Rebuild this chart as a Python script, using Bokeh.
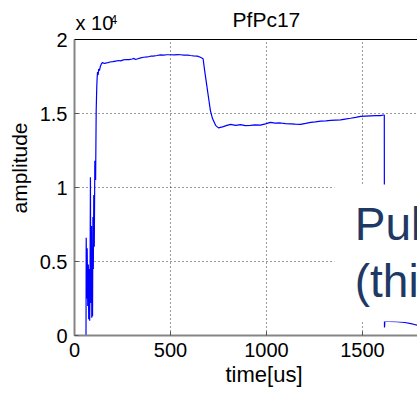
from bokeh.plotting import figure
from bokeh.models import Label, BoxAnnotation, Span, FixedTicker, Range1d, NumeralTickFormatter, Title
from bokeh.embed import file_html
from bokeh.resources import INLINE

# ---- data ----
title_text = "PfPc17"
x_label = "time[us]"
y_label = "amplitude"
y_multiplier = "x 10"
y_exponent = "4"
x_ticks = [0, 500, 1000, 1500, 2000]
y_ticks = [0, 0.5, 1, 1.5, 2]
y_scale = 1e4

time_us = [0, 60, 61, 64, 66, 69, 72, 74, 77, 79, 81, 83, 85, 87, 88.6, 90, 92, 94, 96, 98,
           100.5, 103, 106, 110, 113, 116, 118, 120, 123, 126, 130, 135, 140, 146, 152, 158,
           165, 175, 185, 200, 215, 230, 240, 255, 270, 285, 300, 310, 318, 330, 345, 360,
           380, 396, 410, 430, 448, 465, 480, 500, 520, 540, 552, 570, 590, 604, 620, 640,
           656, 670, 677, 688, 698, 708, 719, 735, 750, 771, 790, 813, 840, 865, 890, 917,
           940, 969, 995, 1021, 1045, 1073, 1100, 1125, 1150, 1177, 1205, 1230, 1255, 1282,
           1310, 1334, 1360, 1386, 1410, 1438, 1465, 1490, 1515, 1542, 1570, 1594, 1610,
           1614, 1615, 1617, 1640, 1680, 1720, 1760, 1800]
amplitude = [0, 0, 6600, 2500, 5900, 2000, 4800, 1100, 4500, 1000, 3800, 10700, 2200, 5500,
             7400, 1200, 6000, 1300, 8000, 4500, 9500, 6000, 11800, 10500, 15200, 16800,
             17400, 17800, 17600, 18000, 17900, 18200, 18350, 18450, 18400, 18380, 18420,
             18440, 18480, 18500, 18540, 18580, 18560, 18620, 18650, 18640, 18680, 18720,
             18650, 18700, 18760, 18800, 18820, 18870, 18880, 18920, 18960, 18950, 18970,
             18970, 18960, 18975, 18970, 18950, 18940, 18920, 18900, 18880, 18800, 18700,
             18000, 17000, 16100, 15200, 14660, 14200, 14030, 14100, 14180, 14260, 14200,
             14250, 14180, 14200, 14230, 14220, 14300, 14400, 14350, 14360, 14320, 14300,
             14280, 14260, 14330, 14400, 14430, 14480, 14500, 14530, 14550, 14570, 14620,
             14680, 14740, 14800, 14820, 14840, 14860, 14860, 14900, 14900, 540, 970, 950,
             930, 880, 780, 640]

overlay_lines = ["Pul", "(thi"]

# ---- layout constants ----
W, H = 417, 397
frame_top_px = 39          # where y = 2 sits
bottom_px = 62
x_end = 1787
y_max = 2
y_top = y_max * (H - bottom_px) / (H - bottom_px - frame_top_px)  # frame reaches canvas top

tick_font = "Liberation Sans"
p = figure(width=W, height=H, x_range=Range1d(0, x_end), y_range=Range1d(0, y_top),
           output_backend="svg", toolbar_location=None, title=None,
           min_border_left=74, min_border_right=0, min_border_top=0,
           min_border_bottom=bottom_px)
p.outline_line_color = None
p.background_fill_color = "white"
p.border_fill_color = "white"

y_vals = [a / y_scale for a in amplitude]
p.line(time_us, y_vals, line_color="#0000ff", line_width=1.2)

for ax in (p.xaxis, p.yaxis):
    ax.axis_line_color = "#858585"
    ax.axis_line_width = 2
    ax.major_tick_in = 4
    ax.major_tick_out = 0
    ax.major_tick_line_color = "#555555"
    ax.minor_tick_line_color = None
    ax.major_label_text_font = tick_font
    ax.major_label_text_font_size = "20px"
    ax.major_label_text_color = "black"
    ax.major_label_standoff = 7
p.xaxis.ticker = FixedTicker(ticks=x_ticks)
p.yaxis.ticker = FixedTicker(ticks=y_ticks)
p.yaxis.bounds = (0, y_max)
p.yaxis.formatter = NumeralTickFormatter(format="0.[0]")
p.yaxis.axis_label = y_label
p.yaxis.axis_label_text_font = tick_font
p.yaxis.axis_label_text_font_size = "21px"
p.yaxis.axis_label_text_font_style = "normal"
p.yaxis.axis_label_text_color = "black"
p.yaxis.axis_label_standoff = 6

p.add_layout(Title(text=x_label, align="left", offset=151, vertical_align="top", standoff=5,
                   text_font=tick_font, text_font_size="22px", text_font_style="normal",
                   text_color="black"), "below")

for g in (p.xgrid, p.ygrid):
    g.grid_line_color = "#333333"
    g.grid_line_dash = "1 3"
    g.grid_line_width = 1
p.xgrid.ticker = FixedTicker(ticks=x_ticks)
p.ygrid.ticker = FixedTicker(ticks=y_ticks)

# blank area above the axes box
p.add_layout(BoxAnnotation(left=0, right=x_end, bottom=y_max, top=y_top,
                           fill_color="white", fill_alpha=1.0, line_color=None))
# top frame line
p.add_layout(Span(location=y_max, dimension="width", line_color="black", line_width=1))

# title and multiplier
p.add_layout(Label(x=1000, y=y_max, y_offset=20.5, text=title_text, text_align="center",
                   text_baseline="alphabetic", text_font=tick_font, text_font_size="21px",
                   text_color="black"))
p.add_layout(Label(x=0, y=y_max, x_offset=1, y_offset=17, text=y_multiplier,
                   text_align="left", text_baseline="alphabetic", text_font=tick_font,
                   text_font_size="20px", text_color="black"))
p.add_layout(Label(x=0, y=y_max, x_offset=36, y_offset=20.5, text=y_exponent,
                   text_align="left", text_baseline="alphabetic", text_font=tick_font,
                   text_font_size="12px", text_color="black"))

# overlaid slide text box
p.add_layout(BoxAnnotation(left=1354, right=x_end, bottom=0.0946, top=1.02,
                           fill_color="white", fill_alpha=1.0, line_color=None))
p.add_layout(Label(x=1460, y=0.642, y_offset=16, text=overlay_lines[0], text_align="left",
                   text_baseline="alphabetic", text_font=tick_font, text_font_size="46px",
                   text_color="#203864"))
p.add_layout(Label(x=1460, y=0.257, y_offset=16, text=overlay_lines[1], text_align="left",
                   text_baseline="alphabetic", text_font=tick_font, text_font_size="46px",
                   text_color="#203864"))

open("out.html", "w").write(file_html(p, INLINE))
